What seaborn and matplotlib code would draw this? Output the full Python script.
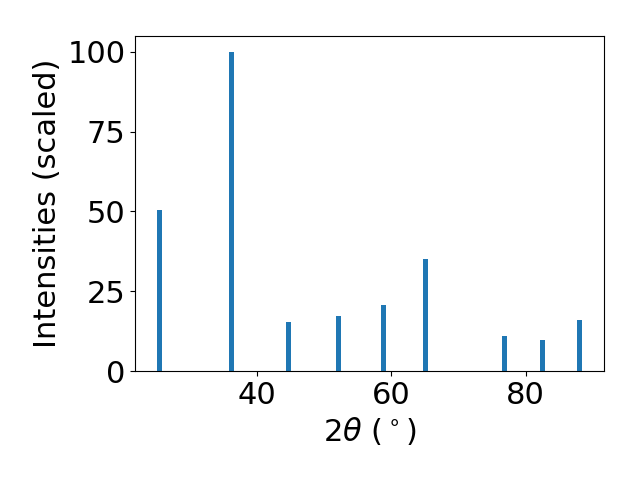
import numpy as np
import pandas as pd
import matplotlib
matplotlib.use("Agg")
import matplotlib.pyplot as plt
import seaborn as sns

# Peak positions (2 theta, degrees) and scaled intensities
two_theta = [25.39, 36.22, 44.72, 52.05, 58.75, 65.12, 76.85, 82.52, 88.02]
intensities = [50.5, 100.0, 15.4, 17.2, 20.7, 35.1, 11.0, 9.7, 16.0]

df = pd.DataFrame({"two_theta": two_theta, "intensity": intensities})

fig, ax = plt.subplots(figsize=(6.4, 4.8), dpi=100)

# bar width of ~0.75 deg, expressed relative to the smallest peak spacing
min_gap = np.min(np.diff(np.sort(two_theta)))
sns.barplot(data=df, x="two_theta", y="intensity", native_scale=True,
            width=0.75 / min_gap, color="#1f77b4", saturation=1,
            errorbar=None, ax=ax)

ax.set_xlim(21.8, 91.7)
ax.set_ylim(0, 105)
ax.set_xticks([40, 60, 80])
ax.set_yticks([0, 25, 50, 75, 100])
ax.tick_params(labelsize=22)
ax.set_xlabel(r"$2\theta$ ($^\circ$)", fontsize=22)
ax.set_ylabel("Intensities (scaled)", fontsize=22)

plt.subplots_adjust(left=0.211, right=0.944, top=0.925, bottom=0.227)
plt.savefig("out.png", dpi=100)
